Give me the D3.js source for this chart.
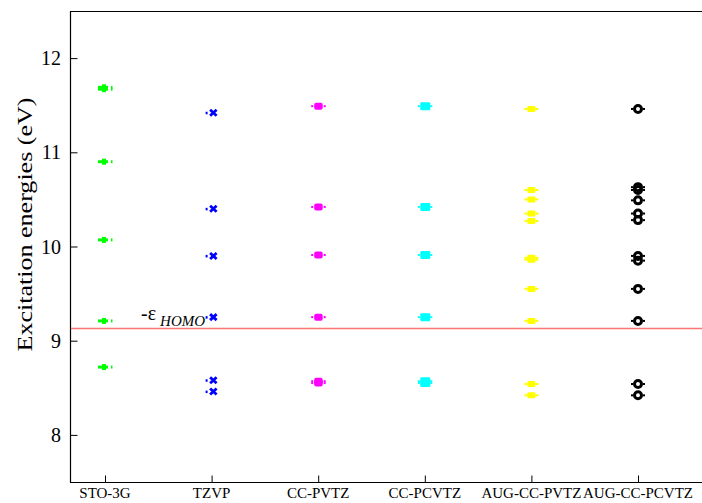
<!DOCTYPE html>
<html>
<head>
<meta charset="utf-8">
<script src="https://cdn.jsdelivr.net/npm/d3@7"></script>
<style>
  html, body { margin: 0; padding: 0; background: #fff; }
  svg { display: block; }
  text { font-family: "Liberation Serif", "Times New Roman", serif; fill: #000; }
</style>
</head>
<body>
<svg id="chart" width="702" height="503"></svg>
<script>
// ---- data ----
const categories = ["STO-3G", "TZVP", "CC-PVTZ", "CC-PCVTZ", "AUG-CC-PVTZ", "AUG-CC-PCVTZ"];
const sto3g      = [11.69, 11.67, 10.90, 10.07, 9.21, 8.72];
const tzvp       = [11.42, 10.40, 9.90, 9.25, 8.58, 8.46];
const ccpvtz     = [11.49, 10.42, 9.91, 9.25, 8.57, 8.55];
const ccpcvtz    = [11.49, 10.42, 9.91, 9.25, 8.57, 8.55];
const augccpvtz  = [11.46, 10.60, 10.50, 10.35, 10.27, 9.88, 9.86, 9.55, 9.21, 8.54, 8.42];
const augccpcvtz = [11.46, 10.63, 10.60, 10.49, 10.35, 10.28, 9.90, 9.85, 9.55, 9.21, 8.54, 8.42];
const homoLevel  = 9.13;
const yTickValues = [8, 9, 10, 11, 12];
const yTitle = "Excitation energies (eV)";

const seriesValues = [sto3g, tzvp, ccpvtz, ccpcvtz, augccpvtz, augccpcvtz];
const seriesColors = ["#00ff00", "#0000ff", "#ff00ff", "#00ffff", "#ffff00", "#000000"];
const seriesShapes = ["arrow", "cross", "roundsq", "square", "blob", "ring"];

// ---- layout ----
const svg = d3.select("#chart");
const pLeft = 70, pRight = 702, pTop = 11, pBottom = 482;

const y = d3.scaleLinear().domain([7.5, 12.5]).range([pBottom, pTop]);
const x = d3.scalePoint().domain(categories).range([105, 638]);

// frame: left, top
svg.append("line").attr("x1", pLeft + 0.5).attr("x2", pLeft + 0.5).attr("y1", pTop).attr("y2", pBottom + 0.5)
  .attr("stroke", "#000").attr("stroke-width", 1.2);
svg.append("line").attr("x1", pLeft).attr("x2", pRight).attr("y1", pTop + 0.5).attr("y2", pTop + 0.5)
  .attr("stroke", "#000").attr("stroke-width", 1.2);

// y axis (inward ticks)
const yAxis = d3.axisRight(y).tickValues(yTickValues).tickSize(7).tickFormat("");
const yg = svg.append("g").attr("transform", `translate(${pLeft + 0.5},0)`).call(yAxis);
yg.select(".domain").remove();
yg.selectAll(".tick line").attr("stroke", "#000").attr("stroke-width", 1);
svg.append("g").selectAll("text").data(yTickValues).join("text")
  .attr("x", 61).attr("y", d => y(d)).attr("dy", "0.35em")
  .attr("text-anchor", "end").attr("font-size", 20).text(d => d);

// x axis (inward ticks)
const xAxis = d3.axisTop(x).tickSize(7).tickFormat("");
const xg = svg.append("g").attr("transform", `translate(0,${pBottom + 0.5})`).call(xAxis);
xg.select(".domain").remove();
xg.selectAll(".tick line").attr("stroke", "#000").attr("stroke-width", 1);
svg.append("line").attr("x1", pLeft).attr("x2", pRight).attr("y1", pBottom + 0.5).attr("y2", pBottom + 0.5)
  .attr("stroke", "#000").attr("stroke-width", 1.2);
svg.append("g").selectAll("text").data(categories).join("text")
  .attr("x", d => x(d)).attr("y", 498)
  .attr("text-anchor", "middle").attr("font-size", 15).text(d => d);

// y title
svg.append("text")
  .attr("transform", `translate(32,${(y(7.5) + y(12.5)) / 2 - 22}) rotate(-90)`)
  .attr("text-anchor", "middle").attr("font-size", 21)
  .attr("textLength", 254).attr("lengthAdjust", "spacingAndGlyphs").text(yTitle);

// HOMO line
svg.append("line").attr("x1", pLeft + 1).attr("x2", pRight).attr("y1", y(homoLevel)).attr("y2", y(homoLevel))
  .attr("stroke", "#ff7474").attr("stroke-width", 1.5);
const ht = svg.append("text").attr("x", 141).attr("y", 320).attr("font-size", 20);
ht.append("tspan").text("-ε");
ht.append("tspan").attr("dx", 4).attr("dy", 6).attr("font-size", 15).attr("font-style", "italic").text("HOMO");

// markers
function drawMarker(g, shape, color) {
  if (shape === "arrow") {
    g.append("rect").attr("x", -7).attr("y", -1.5).attr("width", 10).attr("height", 3).attr("fill", color);
    g.append("rect").attr("x", -3).attr("y", -3).attr("width", 4).attr("height", 6).attr("fill", color);
    g.append("rect").attr("x", 6).attr("y", -1.5).attr("width", 1.5).attr("height", 3).attr("fill", color);
  } else if (shape === "cross") {
    g.append("rect").attr("x", -6).attr("y", -1).attr("width", 2).attr("height", 2.5).attr("fill", color);
    g.append("path").attr("d", "M-1.5,-3 L5,3 M-1.5,3 L5,-3")
      .attr("stroke", color).attr("stroke-width", 2.8).attr("fill", "none");
  } else if (shape === "roundsq") {
    g.append("rect").attr("x", -7).attr("y", -1).attr("width", 2).attr("height", 2).attr("fill", color);
    g.append("rect").attr("x", 5.5).attr("y", -1).attr("width", 2).attr("height", 2).attr("fill", color);
    g.append("rect").attr("x", -4).attr("y", -3.5).attr("width", 8.5).attr("height", 7).attr("rx", 2).attr("fill", color);
  } else if (shape === "square") {
    g.append("rect").attr("x", -7).attr("y", -1).attr("width", 2).attr("height", 2).attr("fill", color);
    g.append("rect").attr("x", 5.5).attr("y", -1).attr("width", 2).attr("height", 2).attr("fill", color);
    g.append("rect").attr("x", -4.5).attr("y", -4).attr("width", 10).attr("height", 8).attr("rx", 1.2).attr("fill", color);
  } else if (shape === "blob") {
    g.append("rect").attr("x", -7).attr("y", -1).attr("width", 3).attr("height", 2).attr("fill", color);
    g.append("rect").attr("x", 4).attr("y", -1).attr("width", 3).attr("height", 2).attr("fill", color);
    g.append("rect").attr("x", -4).attr("y", -3).attr("width", 8).attr("height", 6).attr("rx", 1).attr("fill", color);
  } else if (shape === "ring") {
    g.append("rect").attr("x", -7).attr("y", -1).attr("width", 2).attr("height", 2).attr("fill", color);
    g.append("rect").attr("x", 5).attr("y", -1).attr("width", 2).attr("height", 2).attr("fill", color);
    g.append("circle").attr("r", 3.5).attr("fill", "none").attr("stroke", color).attr("stroke-width", 3);
  }
}

categories.forEach((cat, i) => {
  svg.append("g").selectAll("g").data(seriesValues[i]).join("g")
    .attr("transform", d => `translate(${x(cat)},${y(d)})`)
    .each(function () { drawMarker(d3.select(this), seriesShapes[i], seriesColors[i]); });
});
</script>
</body>
</html>
